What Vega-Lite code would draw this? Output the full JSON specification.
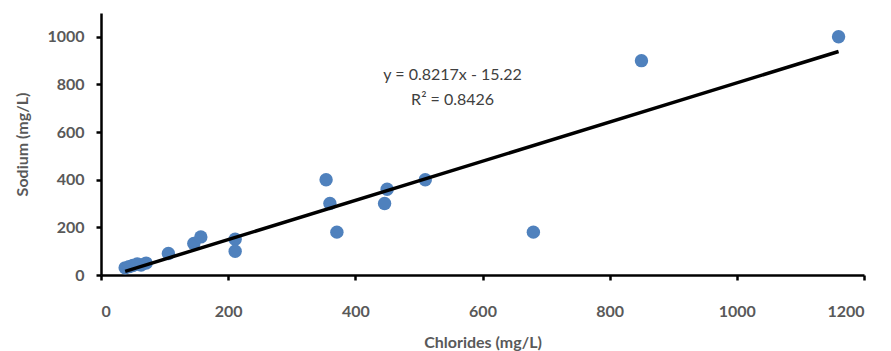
{
  "$schema": "https://vega.github.io/schema/vega-lite/v6.json",
  "width": 763,
  "height": 262,
  "autosize": {"type": "none"},
  "padding": {"left": 101, "top": 13, "right": 27, "bottom": 76},
  "background": "white",
  "config": {
    "view": {"stroke": null},
    "font": "Lato"
  },
  "datasets": {
    "pts": [
      {"chlorides": 38, "sodium": 30},
      {"chlorides": 44, "sodium": 35},
      {"chlorides": 50, "sodium": 40},
      {"chlorides": 57, "sodium": 46},
      {"chlorides": 63, "sodium": 42},
      {"chlorides": 71, "sodium": 50},
      {"chlorides": 106, "sodium": 90},
      {"chlorides": 146, "sodium": 132},
      {"chlorides": 157, "sodium": 160},
      {"chlorides": 211, "sodium": 150},
      {"chlorides": 211, "sodium": 100},
      {"chlorides": 354, "sodium": 400},
      {"chlorides": 360, "sodium": 300},
      {"chlorides": 371, "sodium": 180},
      {"chlorides": 446, "sodium": 300},
      {"chlorides": 450, "sodium": 360},
      {"chlorides": 510, "sodium": 400},
      {"chlorides": 680, "sodium": 180},
      {"chlorides": 850, "sodium": 900},
      {"chlorides": 1160, "sodium": 1000}
    ],
    "labels": [
      {"chlorides": 553, "sodium": 840, "text": "y = 0.8217x - 15.22"},
      {"chlorides": 553, "sodium": 735, "text": "R² = 0.8426"}
    ]
  },
  "layer": [
    {
      "data": {"name": "pts"},
      "mark": {"type": "point", "filled": true, "opacity": 1, "size": 180, "color": "#4F81BD"},
      "encoding": {
        "x": {
          "field": "chlorides", "type": "quantitative",
          "scale": {"domain": [0, 1200], "nice": false},
          "axis": {
            "title": "Chlorides (mg/L)",
            "values": [0, 200, 400, 600, 800, 1000, 1200],
            "format": "d",
            "grid": false,
            "domainColor": "black", "domainWidth": 2.5,
            "tickColor": "black", "tickWidth": 2.5, "tickSize": 5,
            "labelFont": "Lato", "labelFontWeight": "bold", "labelFontSize": 16, "labelColor": "#595959",
            "labelPadding": 23,
            "titleFont": "Lato", "titleFontWeight": "bold", "titleFontSize": 16, "titleColor": "#595959",
            "titlePadding": 15
          }
        },
        "y": {
          "field": "sodium", "type": "quantitative",
          "scale": {"domain": [0, 1100], "nice": false},
          "axis": {
            "title": "Sodium (mg/L)",
            "values": [0, 200, 400, 600, 800, 1000],
            "format": "d",
            "grid": false,
            "domainColor": "black", "domainWidth": 2.5,
            "tickColor": "black", "tickWidth": 2.5, "tickSize": 5,
            "labelFont": "Lato", "labelFontWeight": "bold", "labelFontSize": 16, "labelColor": "#595959",
            "labelPadding": 12,
            "titleFont": "Lato", "titleFontWeight": "bold", "titleFontSize": 16, "titleColor": "#595959",
            "titlePadding": 16
          }
        }
      }
    },
    {
      "data": {"name": "pts"},
      "transform": [{"regression": "sodium", "on": "chlorides"}],
      "mark": {"type": "line", "color": "black", "strokeWidth": 3.5},
      "encoding": {
        "x": {"field": "chlorides", "type": "quantitative"},
        "y": {"field": "sodium", "type": "quantitative"}
      }
    },
    {
      "data": {"name": "labels"},
      "mark": {"type": "text", "font": "Lato", "fontSize": 16, "color": "#404040", "align": "center"},
      "encoding": {
        "x": {"field": "chlorides", "type": "quantitative"},
        "y": {"field": "sodium", "type": "quantitative"},
        "text": {"field": "text"}
      }
    }
  ]
}
